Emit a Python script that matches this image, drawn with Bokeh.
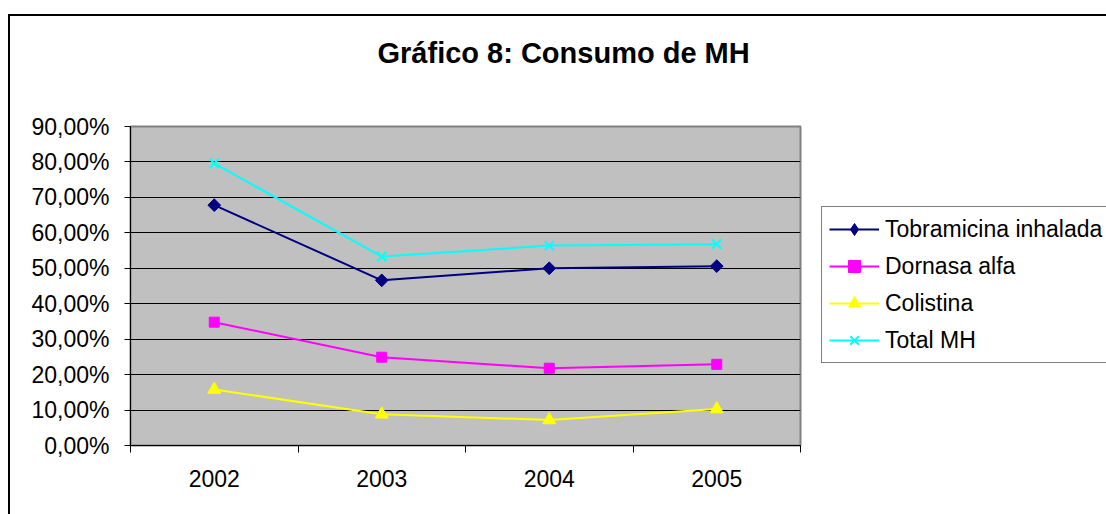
import math
from bokeh.plotting import figure
from bokeh.layouts import row
from bokeh.models import FixedTicker, Legend, LegendItem, Range1d, Title
from bokeh.embed import file_html
from bokeh.resources import INLINE

title_text = "Gráfico 8: Consumo de MH"
years = ["2002", "2003", "2004", "2005"]
tobramicina = [67.8, 46.6, 50.0, 50.6]
dornasa = [34.8, 24.9, 21.8, 22.9]
colistina = [15.8, 8.8, 7.2, 10.3]
total_mh = [79.6, 53.3, 56.4, 56.8]
y_ticks = [0, 10, 20, 30, 40, 50, 60, 70, 80, 90]
y_labels = ["0,00%", "10,00%", "20,00%", "30,00%", "40,00%", "50,00%",
            "60,00%", "70,00%", "80,00%", "90,00%"]

FONT = "Liberation Sans"

xs = [i + 0.5 for i in range(len(years))]

p = figure(width=800, height=498, output_backend="svg", toolbar_location=None,
           x_range=Range1d(0, len(years)), y_range=Range1d(y_ticks[0], y_ticks[-1]),
           min_border_left=120, min_border_top=110, min_border_right=10,
           min_border_bottom=69)

# spacer between frame and title
p.add_layout(Title(text=" ", text_font_size="1px", standoff=50), "above")

p.title.text = title_text
p.title.align = "left"
p.title.offset = 247
p.title.standoff = 10
p.title.vertical_align = "bottom"
p.title.text_font = FONT
p.title.text_font_style = "bold"
p.title.text_font_size = "29px"
p.title.text_color = "black"

p.background_fill_color = "#C0C0C0"
p.border_fill_color = "white"
p.outline_line_color = "#808080"
p.outline_line_width = 2

# x axis
xa = p.xaxis[0]
xa.ticker = FixedTicker(ticks=xs, minor_ticks=list(range(len(years) + 1)))
xa.major_label_overrides = {x: y for x, y in zip(xs, years)}
xa.major_tick_out = 0
xa.major_tick_in = 0
xa.minor_tick_out = 7
xa.minor_tick_in = 0
xa.minor_tick_line_color = "black"
xa.axis_line_color = "black"
xa.major_label_standoff = 17
xa.major_label_text_font = FONT
xa.major_label_text_font_size = "23px"
xa.major_label_text_color = "black"

# y axis
ya = p.yaxis[0]
ya.ticker = FixedTicker(ticks=y_ticks, minor_ticks=[])
ya.major_label_overrides = {t: l for t, l in zip(y_ticks, y_labels)}
ya.major_tick_out = 6
ya.major_tick_in = 0
ya.major_tick_line_color = "black"
ya.axis_line_color = "black"
ya.major_label_standoff = 15
ya.major_label_text_font = FONT
ya.major_label_text_font_size = "23px"
ya.major_label_text_color = "black"

p.xgrid.visible = False
p.ygrid.ticker = FixedTicker(ticks=y_ticks)
p.ygrid.grid_line_color = "black"
p.ygrid.grid_line_width = 1

series = [
    ("Tobramicina inhalada", tobramicina, "#000080", "square", 9, math.pi / 4, "diamond", 14),
    ("Dornasa alfa", dornasa, "#FF00FF", "square", 10, 0, "square", 10),
    ("Colistina", colistina, "#FFFF00", "triangle", 13, 0, "triangle", 13),
    ("Total MH", total_mh, "#00FFFF", "x", 13, 0, "x", 13),
]

# legend panel (separate figure so the legend is not clipped by the plot frame)
lg = figure(width=296, height=498, output_backend="svg", toolbar_location=None,
            x_range=Range1d(0, 1), y_range=Range1d(0, 1),
            x_axis_location=None, y_axis_location=None,
            min_border_left=0, min_border_right=0, min_border_top=0,
            min_border_bottom=0)
lg.outline_line_color = None
lg.background_fill_color = "white"
lg.border_fill_color = "white"
lg.xgrid.visible = False
lg.ygrid.visible = False

items = []
for name, vals, color, marker, size, ang, lmarker, lsize in series:
    p.line(xs, vals, line_color=color, line_width=2)
    p.scatter(xs, vals, marker=marker, size=size, angle=ang,
              fill_color=color, line_color=color,
              line_width=2 if marker == "x" else 1)
    # legend swatch renderers (their data lies outside this panel's range)
    ll = lg.line(xs, vals, line_color=color, line_width=2)
    ls = lg.scatter(xs, vals, marker=lmarker, size=lsize, fill_color=color,
                    line_color=color, line_width=2 if lmarker == "x" else 1)
    items.append(LegendItem(label=name, renderers=[ll, ls]))

legend = Legend(items=items, location=(11, 82), border_line_color="black",
                border_line_width=1, background_fill_color="white",
                background_fill_alpha=1, padding=7, spacing=7, margin=0,
                label_height=30, glyph_height=30, glyph_width=50,
                label_standoff=6, label_text_font=FONT,
                label_text_font_size="23px", label_text_color="black")
lg.add_layout(legend)

layout = row(p, lg, spacing=0)
layout.styles = {"border-left": "2px solid black", "border-top": "2px solid black",
                 "margin-top": "14px", "margin-left": "8px"}

open("out.html", "w").write(file_html(layout, INLINE))
